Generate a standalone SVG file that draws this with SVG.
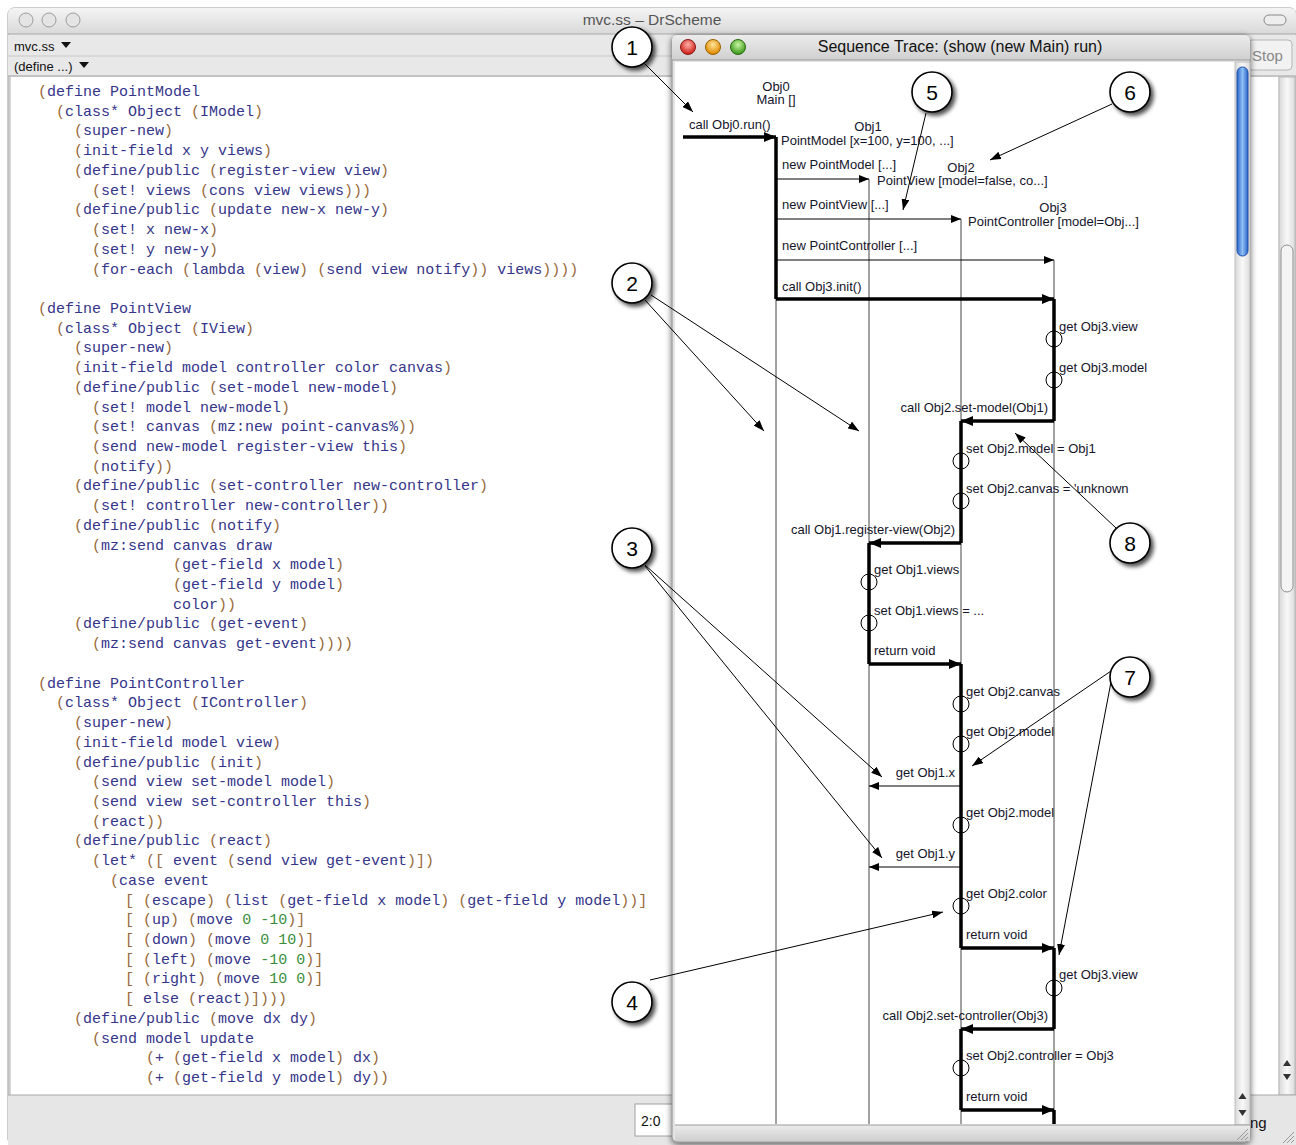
<svg xmlns="http://www.w3.org/2000/svg" width="1296" height="1145" viewBox="0 0 1296 1145">
<style>
.code{font-family:"Liberation Mono",monospace;font-size:15px;fill:#35358a;white-space:pre}
.p{fill:#9a6a3a}
.n{fill:#3a8f3a}
.lbl{font-family:"Liberation Sans",Arial,sans-serif;font-size:13px;fill:#15152a}
.mid{text-anchor:middle}
.end{text-anchor:end}
.life{stroke:#444;stroke-width:1;fill:none}
.act{stroke:#000;stroke-width:3.5;fill:none}
.thin{stroke:#000;stroke-width:1;fill:none}
.ring{stroke:#000;stroke-width:1;fill:none}
.call{stroke:#000;stroke-width:1;fill:none}
.bubble{fill:#fff;stroke:#000;stroke-width:1.6}
.num{font-family:"Liberation Sans",Arial,sans-serif;font-size:21px;text-anchor:middle;fill:#000}
.ui{font-family:"Liberation Sans",Arial,sans-serif}
</style>
<defs>
<linearGradient id="tb" x1="0" y1="0" x2="0" y2="1"><stop offset="0" stop-color="#f4f4f4"/><stop offset="1" stop-color="#d9d9d9"/></linearGradient>
<linearGradient id="tb2" x1="0" y1="0" x2="0" y2="1"><stop offset="0" stop-color="#ececec"/><stop offset="1" stop-color="#cfcfcf"/></linearGradient>
<linearGradient id="blue" x1="0" y1="0" x2="1" y2="0"><stop offset="0" stop-color="#2a64c8"/><stop offset="0.5" stop-color="#8fc0f5"/><stop offset="1" stop-color="#2a64c8"/></linearGradient>
<linearGradient id="trk" x1="0" y1="0" x2="1" y2="0"><stop offset="0" stop-color="#d8d8d8"/><stop offset="0.5" stop-color="#f8f8f8"/><stop offset="1" stop-color="#dcdcdc"/></linearGradient>
<radialGradient id="red" cx="0.5" cy="0.35" r="0.6"><stop offset="0" stop-color="#ffb0a8"/><stop offset="1" stop-color="#d0221a"/></radialGradient>
<radialGradient id="yel" cx="0.5" cy="0.35" r="0.6"><stop offset="0" stop-color="#ffe59a"/><stop offset="1" stop-color="#e08a00"/></radialGradient>
<radialGradient id="grn" cx="0.5" cy="0.35" r="0.6"><stop offset="0" stop-color="#c8f5a0"/><stop offset="1" stop-color="#3c9a1c"/></radialGradient>
<filter id="sh" x="-50%" y="-50%" width="200%" height="200%"><feGaussianBlur in="SourceAlpha" stdDeviation="2"/><feOffset dx="3" dy="3"/><feComponentTransfer><feFuncA type="linear" slope="0.7"/></feComponentTransfer><feMerge><feMergeNode/><feMergeNode in="SourceGraphic"/></feMerge></filter>
<filter id="wsh" x="-10%" y="-10%" width="120%" height="120%"><feGaussianBlur in="SourceAlpha" stdDeviation="3"/><feOffset dx="0" dy="2"/><feComponentTransfer><feFuncA type="linear" slope="0.6"/></feComponentTransfer><feMerge><feMergeNode/><feMergeNode in="SourceGraphic"/></feMerge></filter>
<marker id="ah" viewBox="0 0 12 10" refX="12" refY="5" markerWidth="12" markerHeight="10" markerUnits="userSpaceOnUse" orient="auto"><path d="M0,0 L12,5 L0,10 Z" fill="#000"/></marker>
<marker id="ahs" viewBox="0 0 10 8" refX="10" refY="4" markerWidth="10" markerHeight="8" markerUnits="userSpaceOnUse" orient="auto"><path d="M0,0 L10,4 L0,8 Z" fill="#000"/></marker>
<marker id="ahc" viewBox="0 0 11 8" refX="11" refY="4" markerWidth="11" markerHeight="8" markerUnits="userSpaceOnUse" orient="auto"><path d="M0,0 L11,4 L0,8 Z" fill="#000"/></marker>
</defs>

<!-- Outer DrScheme window -->
<g id="drscheme-window">
<rect x="8" y="8" width="1288" height="1137" rx="6" fill="#e9e9e9" stroke="#9a9a9a"/>
<path d="M8,34 V14 Q8,8 14,8 H1290 Q1296,8 1296,14 V34 Z" fill="url(#tb)"/>
<line x1="8" y1="34" x2="1296" y2="34" stroke="#a8a8a8"/>
<circle cx="26" cy="20" r="7" fill="#e4e4e4" stroke="#9c9c9c"/>
<circle cx="49" cy="20" r="7" fill="#e4e4e4" stroke="#9c9c9c"/>
<circle cx="73" cy="20" r="7" fill="#e4e4e4" stroke="#9c9c9c"/>
<rect x="1264" y="15" width="22" height="10" rx="5" fill="#eee" stroke="#8a8a8a"/>
<text x="652" y="25" class="ui mid" font-size="15.5" fill="#555">mvc.ss – DrScheme</text>
<rect x="8" y="35" width="1288" height="41" fill="#e8e8e8"/>
<line x1="8" y1="56" x2="672" y2="56" stroke="#c8c8c8"/>
<text x="14" y="51" class="ui" font-size="13" fill="#111">mvc.ss</text>
<path d="M61,42 L71,42 L66,48 Z" fill="#111"/>
<text x="14" y="71" class="ui" font-size="13" fill="#111">(define ...)</text>
<path d="M79,62 L89,62 L84,68 Z" fill="#111"/>
<rect x="1248" y="40" width="44" height="30" rx="4" fill="#f2f2f2" stroke="#b5b5b5"/>
<text x="1252" y="61" class="ui" font-size="15" fill="#888">Stop</text>
<line x1="8" y1="76" x2="1296" y2="76" stroke="#a0a0a0"/>
<rect x="10" y="77" width="1268" height="1018" fill="#fff"/>
<line x1="10" y1="77" x2="10" y2="1095" stroke="#b0b0b0"/>
<!-- outer scrollbar -->
<rect x="1279" y="77" width="16" height="1018" fill="url(#trk)" stroke="#b8b8b8"/>
<rect x="1281" y="245" width="12" height="347" rx="6" fill="#f4f4f4" stroke="#8e8e8e"/>
<path d="M1283,1066 L1291,1066 L1287,1060 Z" fill="#333"/>
<path d="M1283,1074 L1291,1074 L1287,1080 Z" fill="#333"/>
<!-- status bar -->
<rect x="8" y="1095" width="1288" height="50" fill="#e6e6e6"/>
<line x1="8" y1="1095" x2="1296" y2="1095" stroke="#a8a8a8"/>
<rect x="635" y="1104" width="40" height="32" fill="#fff" stroke="#a0a0a0"/>
<text x="641" y="1126" class="ui" font-size="14" fill="#111">2:0</text>
<text x="1250" y="1128" class="ui" font-size="15" fill="#111">ng</text>
<path d="M1283,1143 L1294,1132 M1287,1143 L1294,1136 M1291,1143 L1294,1140" stroke="#999"/>
</g>

<!-- Code -->
<g id="code" class="code">
<text x="38" y="96"><tspan class="p">(</tspan>define PointModel</text>
<text x="56" y="115.7"><tspan class="p">(</tspan>class* Object <tspan class="p">(</tspan>IModel<tspan class="p">)</tspan></text>
<text x="74" y="135.4"><tspan class="p">(</tspan>super-new<tspan class="p">)</tspan></text>
<text x="74" y="155.2"><tspan class="p">(</tspan>init-field x y views<tspan class="p">)</tspan></text>
<text x="74" y="174.9"><tspan class="p">(</tspan>define/public <tspan class="p">(</tspan>register-view view<tspan class="p">)</tspan></text>
<text x="92" y="194.6"><tspan class="p">(</tspan>set! views <tspan class="p">(</tspan>cons view views<tspan class="p">)))</tspan></text>
<text x="74" y="214.3"><tspan class="p">(</tspan>define/public <tspan class="p">(</tspan>update new-x new-y<tspan class="p">)</tspan></text>
<text x="92" y="234"><tspan class="p">(</tspan>set! x new-x<tspan class="p">)</tspan></text>
<text x="92" y="253.8"><tspan class="p">(</tspan>set! y new-y<tspan class="p">)</tspan></text>
<text x="92" y="273.5"><tspan class="p">(</tspan>for-each <tspan class="p">(</tspan>lambda <tspan class="p">(</tspan>view<tspan class="p">)</tspan> <tspan class="p">(</tspan>send view notify<tspan class="p">))</tspan> views<tspan class="p">))))</tspan></text>

<text x="38" y="312.9"><tspan class="p">(</tspan>define PointView</text>
<text x="56" y="332.6"><tspan class="p">(</tspan>class* Object <tspan class="p">(</tspan>IView<tspan class="p">)</tspan></text>
<text x="74" y="352.4"><tspan class="p">(</tspan>super-new<tspan class="p">)</tspan></text>
<text x="74" y="372.1"><tspan class="p">(</tspan>init-field model controller color canvas<tspan class="p">)</tspan></text>
<text x="74" y="391.8"><tspan class="p">(</tspan>define/public <tspan class="p">(</tspan>set-model new-model<tspan class="p">)</tspan></text>
<text x="92" y="411.5"><tspan class="p">(</tspan>set! model new-model<tspan class="p">)</tspan></text>
<text x="92" y="431.2"><tspan class="p">(</tspan>set! canvas <tspan class="p">(</tspan>mz:new point-canvas%<tspan class="p">))</tspan></text>
<text x="92" y="451"><tspan class="p">(</tspan>send new-model register-view this<tspan class="p">)</tspan></text>
<text x="92" y="470.7"><tspan class="p">(</tspan>notify<tspan class="p">))</tspan></text>
<text x="74" y="490.4"><tspan class="p">(</tspan>define/public <tspan class="p">(</tspan>set-controller new-controller<tspan class="p">)</tspan></text>
<text x="92" y="510.1"><tspan class="p">(</tspan>set! controller new-controller<tspan class="p">))</tspan></text>
<text x="74" y="529.8"><tspan class="p">(</tspan>define/public <tspan class="p">(</tspan>notify<tspan class="p">)</tspan></text>
<text x="92" y="549.6"><tspan class="p">(</tspan>mz:send canvas draw</text>
<text x="173" y="569.3"><tspan class="p">(</tspan>get-field x model<tspan class="p">)</tspan></text>
<text x="173" y="589"><tspan class="p">(</tspan>get-field y model<tspan class="p">)</tspan></text>
<text x="173" y="608.7">color<tspan class="p">))</tspan></text>
<text x="74" y="628.4"><tspan class="p">(</tspan>define/public <tspan class="p">(</tspan>get-event<tspan class="p">)</tspan></text>
<text x="92" y="648.2"><tspan class="p">(</tspan>mz:send canvas get-event<tspan class="p">))))</tspan></text>

<text x="38" y="687.6"><tspan class="p">(</tspan>define PointController</text>
<text x="56" y="707.3"><tspan class="p">(</tspan>class* Object <tspan class="p">(</tspan>IController<tspan class="p">)</tspan></text>
<text x="74" y="727"><tspan class="p">(</tspan>super-new<tspan class="p">)</tspan></text>
<text x="74" y="746.8"><tspan class="p">(</tspan>init-field model view<tspan class="p">)</tspan></text>
<text x="74" y="766.5"><tspan class="p">(</tspan>define/public <tspan class="p">(</tspan>init<tspan class="p">)</tspan></text>
<text x="92" y="786.2"><tspan class="p">(</tspan>send view set-model model<tspan class="p">)</tspan></text>
<text x="92" y="805.9"><tspan class="p">(</tspan>send view set-controller this<tspan class="p">)</tspan></text>
<text x="92" y="825.6"><tspan class="p">(</tspan>react<tspan class="p">))</tspan></text>
<text x="74" y="845.4"><tspan class="p">(</tspan>define/public <tspan class="p">(</tspan>react<tspan class="p">)</tspan></text>
<text x="92" y="865.1"><tspan class="p">(</tspan>let* <tspan class="p">([</tspan> event <tspan class="p">(</tspan>send view get-event<tspan class="p">)])</tspan></text>
<text x="110" y="884.8"><tspan class="p">(</tspan>case event</text>
<text x="125" y="904.5"><tspan class="p">[</tspan> <tspan class="p">(</tspan>escape<tspan class="p">)</tspan> <tspan class="p">(</tspan>list <tspan class="p">(</tspan>get-field x model<tspan class="p">)</tspan> <tspan class="p">(</tspan>get-field y model<tspan class="p">))]</tspan></text>
<text x="125" y="924.2"><tspan class="p">[</tspan> <tspan class="p">(</tspan>up<tspan class="p">)</tspan> <tspan class="p">(</tspan>move <tspan class="n">0</tspan> <tspan class="n">-10</tspan><tspan class="p">)]</tspan></text>
<text x="125" y="944"><tspan class="p">[</tspan> <tspan class="p">(</tspan>down<tspan class="p">)</tspan> <tspan class="p">(</tspan>move <tspan class="n">0</tspan> <tspan class="n">10</tspan><tspan class="p">)]</tspan></text>
<text x="125" y="963.7"><tspan class="p">[</tspan> <tspan class="p">(</tspan>left<tspan class="p">)</tspan> <tspan class="p">(</tspan>move <tspan class="n">-10</tspan> <tspan class="n">0</tspan><tspan class="p">)]</tspan></text>
<text x="125" y="983.4"><tspan class="p">[</tspan> <tspan class="p">(</tspan>right<tspan class="p">)</tspan> <tspan class="p">(</tspan>move <tspan class="n">10</tspan> <tspan class="n">0</tspan><tspan class="p">)]</tspan></text>
<text x="125" y="1003.1"><tspan class="p">[</tspan> else <tspan class="p">(</tspan>react<tspan class="p">)])))</tspan></text>
<text x="74" y="1022.8"><tspan class="p">(</tspan>define/public <tspan class="p">(</tspan>move dx dy<tspan class="p">)</tspan></text>
<text x="92" y="1042.6"><tspan class="p">(</tspan>send model update</text>
<text x="146" y="1062.3"><tspan class="p">(</tspan>+ <tspan class="p">(</tspan>get-field x model<tspan class="p">)</tspan> dx<tspan class="p">)</tspan></text>
<text x="146" y="1082"><tspan class="p">(</tspan>+ <tspan class="p">(</tspan>get-field y model<tspan class="p">)</tspan> dy<tspan class="p">))</tspan></text>
</g>

<!-- Sequence trace window -->
<g id="trace-window">
<rect x="672" y="35" width="578" height="1107" rx="5" fill="#e4e4e4" stroke="#8a8a8a" filter="url(#wsh)"/>
<path d="M672,60 V40 Q672,35 677,35 H1245 Q1250,35 1250,40 V60 Z" fill="url(#tb2)"/>
<line x1="672" y1="60" x2="1250" y2="60" stroke="#9a9a9a"/>
<circle cx="688" cy="47" r="7.5" fill="url(#red)" stroke="#8a1a14"/>
<circle cx="713" cy="47" r="7.5" fill="url(#yel)" stroke="#9a6000"/>
<circle cx="738" cy="47" r="7.5" fill="url(#grn)" stroke="#2a6a10"/>
<text x="960" y="52" class="ui mid" font-size="16" fill="#111">Sequence Trace: (show (new Main) run)</text>
<rect x="675" y="62" width="560" height="1063" fill="#fff"/>
<rect x="1235" y="62" width="15" height="1063" fill="url(#trk)" stroke="#bdbdbd"/>
<rect x="1237" y="67" width="11" height="189" rx="5.5" fill="url(#blue)" stroke="#1b4fa8"/>
<path d="M1238.5,1099 L1246.5,1099 L1242.5,1093 Z" fill="#333"/>
<path d="M1238.5,1110 L1246.5,1110 L1242.5,1116 Z" fill="#333"/>
<rect x="675" y="1125" width="575" height="16" fill="url(#tb2)"/>
<line x1="675" y1="1125" x2="1250" y2="1125" stroke="#9a9a9a"/>
<path d="M1237,1140 L1248,1129 M1241,1140 L1248,1133 M1245,1140 L1248,1137" stroke="#999"/>
</g>

<!-- Sequence objects (lifelines and headers) -->
<g id="obj0">
<text x="776" y="91" class="lbl mid">Obj0</text>
<text x="776" y="104" class="lbl mid">Main []</text>
<line x1="776" y1="137" x2="776" y2="1124" class="life"/>
</g>
<g id="obj1">
<text x="868" y="131" class="lbl mid">Obj1</text>
<text x="781" y="145" class="lbl">PointModel [x=100, y=100, ...]</text>
<line x1="869" y1="179" x2="869" y2="1124" class="life"/>
</g>
<g id="obj2">
<text x="961" y="172" class="lbl mid">Obj2</text>
<text x="877" y="185" class="lbl">PointView [model=false, co...]</text>
<line x1="961" y1="219" x2="961" y2="1124" class="life"/>
</g>
<g id="obj3">
<text x="1053" y="212" class="lbl mid">Obj3</text>
<text x="968" y="226" class="lbl">PointController [model=Obj...]</text>
<line x1="1054" y1="260" x2="1054" y2="1124" class="life"/>
</g>

<!-- Messages / connectors -->
<g id="messages">
<path class="act" d="M776,137 V299 M1054,299 V421 M961,421 V543 M869,543 V664 M961,664 V948 M1054,948 V1029 M961,1029 V1110 M1054,1110 V1124"/>
<text x="689" y="129" class="lbl">call Obj0.run()</text>
<line x1="683" y1="137" x2="776" y2="137" class="act" marker-end="url(#ah)"/>
<text x="782" y="169" class="lbl">new PointModel [...]</text>
<line x1="776" y1="179" x2="869" y2="179" class="thin" marker-end="url(#ahs)"/>
<text x="782" y="209" class="lbl">new PointView [...]</text>
<line x1="776" y1="219" x2="961" y2="219" class="thin" marker-end="url(#ahs)"/>
<text x="782" y="250" class="lbl">new PointController [...]</text>
<line x1="776" y1="260" x2="1054" y2="260" class="thin" marker-end="url(#ahs)"/>
<text x="782" y="291" class="lbl">call Obj3.init()</text>
<line x1="776" y1="299" x2="1054" y2="299" class="act" marker-end="url(#ah)"/>

<text x="1059" y="331" class="lbl">get Obj3.view</text>
<circle cx="1054" cy="339" r="8" class="ring"/>
<text x="1059" y="372" class="lbl">get Obj3.model</text>
<circle cx="1054" cy="380" r="8" class="ring"/>
<text x="1048" y="412" class="lbl end">call Obj2.set-model(Obj1)</text>
<line x1="1054" y1="421" x2="961" y2="421" class="act" marker-end="url(#ah)"/>

<text x="966" y="453" class="lbl">set Obj2.model = Obj1</text>
<circle cx="961" cy="461" r="8" class="ring"/>
<text x="966" y="493" class="lbl">set Obj2.canvas = 'unknown</text>
<circle cx="961" cy="501" r="8" class="ring"/>
<text x="955" y="534" class="lbl end">call Obj1.register-view(Obj2)</text>
<line x1="961" y1="543" x2="869" y2="543" class="act" marker-end="url(#ah)"/>

<text x="874" y="574" class="lbl">get Obj1.views</text>
<circle cx="869" cy="582" r="8" class="ring"/>
<text x="874" y="615" class="lbl">set Obj1.views = ...</text>
<circle cx="869" cy="623" r="8" class="ring"/>
<text x="874" y="655" class="lbl">return void</text>
<line x1="869" y1="664" x2="961" y2="664" class="act" marker-end="url(#ah)"/>

<text x="966" y="696" class="lbl">get Obj2.canvas</text>
<circle cx="961" cy="704" r="8" class="ring"/>
<text x="966" y="736" class="lbl">get Obj2.model</text>
<circle cx="961" cy="744" r="8" class="ring"/>
<text x="955" y="777" class="lbl end">get Obj1.x</text>
<line x1="961" y1="786" x2="869" y2="786" class="thin" marker-end="url(#ahs)"/>
<text x="966" y="817" class="lbl">get Obj2.model</text>
<circle cx="961" cy="825" r="8" class="ring"/>
<text x="955" y="858" class="lbl end">get Obj1.y</text>
<line x1="961" y1="867" x2="869" y2="867" class="thin" marker-end="url(#ahs)"/>
<text x="966" y="898" class="lbl">get Obj2.color</text>
<circle cx="961" cy="906" r="8" class="ring"/>
<text x="966" y="939" class="lbl">return void</text>
<line x1="961" y1="948" x2="1054" y2="948" class="act" marker-end="url(#ah)"/>

<text x="1059" y="979" class="lbl">get Obj3.view</text>
<circle cx="1054" cy="988" r="8" class="ring"/>
<text x="1048" y="1020" class="lbl end">call Obj2.set-controller(Obj3)</text>
<line x1="1054" y1="1029" x2="961" y2="1029" class="act" marker-end="url(#ah)"/>
<text x="966" y="1060" class="lbl">set Obj2.controller = Obj3</text>
<circle cx="961" cy="1068" r="8" class="ring"/>
<text x="966" y="1101" class="lbl">return void</text>
<line x1="961" y1="1110" x2="1054" y2="1110" class="act" marker-end="url(#ah)"/>
</g>

<!-- Callout connectors -->
<g id="callout-arrows">
<line x1="645" y1="64" x2="693" y2="112" class="call" marker-end="url(#ahc)"/>
<line x1="926" y1="113" x2="903" y2="210" class="call" marker-end="url(#ahc)"/>
<line x1="1112" y1="104" x2="990" y2="160" class="call" marker-end="url(#ahc)"/>
<line x1="645" y1="300" x2="764" y2="431" class="call" marker-end="url(#ahc)"/>
<line x1="651" y1="295" x2="859" y2="431" class="call" marker-end="url(#ahc)"/>
<line x1="1116" y1="528" x2="1015" y2="433" class="call" marker-end="url(#ahc)"/>
<line x1="645" y1="565" x2="882" y2="777" class="call" marker-end="url(#ahc)"/>
<line x1="645" y1="566" x2="882" y2="858" class="call" marker-end="url(#ahc)"/>
<line x1="1111" y1="671" x2="972" y2="766" class="call" marker-end="url(#ahc)"/>
<line x1="1111" y1="682" x2="1059" y2="955" class="call" marker-end="url(#ahc)"/>
<line x1="650" y1="980" x2="943" y2="912" class="call" marker-end="url(#ahc)"/>
</g>

<!-- Callout bubbles -->
<g id="callout-1"><circle cx="632" cy="47" r="20" class="bubble" filter="url(#sh)"/><text x="632" y="55" class="num">1</text></g>
<g id="callout-5"><circle cx="932" cy="92" r="20" class="bubble" filter="url(#sh)"/><text x="932" y="100" class="num">5</text></g>
<g id="callout-6"><circle cx="1130" cy="92" r="20" class="bubble" filter="url(#sh)"/><text x="1130" y="100" class="num">6</text></g>
<g id="callout-2"><circle cx="632" cy="283" r="20" class="bubble" filter="url(#sh)"/><text x="632" y="291" class="num">2</text></g>
<g id="callout-8"><circle cx="1130" cy="543" r="20" class="bubble" filter="url(#sh)"/><text x="1130" y="551" class="num">8</text></g>
<g id="callout-3"><circle cx="632" cy="548" r="20" class="bubble" filter="url(#sh)"/><text x="632" y="556" class="num">3</text></g>
<g id="callout-7"><circle cx="1130" cy="677" r="20" class="bubble" filter="url(#sh)"/><text x="1130" y="685" class="num">7</text></g>
<g id="callout-4"><circle cx="632" cy="1002" r="20" class="bubble" filter="url(#sh)"/><text x="632" y="1010" class="num">4</text></g>
</svg>
